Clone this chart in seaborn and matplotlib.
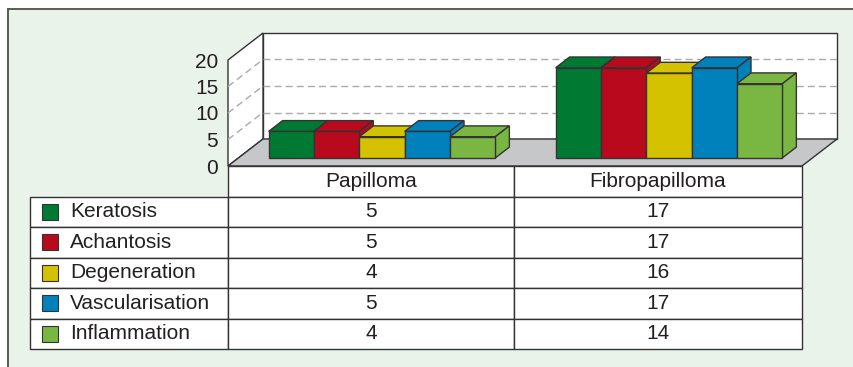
import numpy as np
import pandas as pd
import matplotlib
matplotlib.use("Agg")
import matplotlib.pyplot as plt
import seaborn as sns
from matplotlib.patches import Rectangle, Polygon
from matplotlib.lines import Line2D

# --- datos ---
tumours = ["Papilloma", "Fibropapilloma"]
lesions = ["Keratosis", "Achantosis", "Degeneration", "Vascularisation", "Inflammation"]
papilloma = [5, 5, 4, 5, 4]
fibropapilloma = [17, 17, 16, 17, 14]
colors = ["#007a33", "#b9091c", "#d4c200", "#0081bb", "#79b642"]
yticks = [0, 5, 10, 15, 20]

df = pd.DataFrame({
    "tumour": np.repeat(tumours, len(lesions)),
    "lesion": lesions * 2,
    "count": papilloma + fibropapilloma,
})

# --- estilo ---
sns.set_style("white")
plt.rcParams["font.family"] = ["Liberation Sans", "DejaVu Sans"]
TXT = "#231f20"
EDGE = "#333333"
FS = 15

W, H = 854, 367
fig = plt.figure(figsize=(W / 100, H / 100), dpi=100)
fig.patch.set_facecolor("white")

# marco verde
fig.add_artist(Rectangle((8 / W, 0), 1 - 8 / W, 1 - 9 / H, transform=fig.transFigure,
                         fc="#e9f3ea", ec="none", zorder=-2))
fig.add_artist(Line2D([8 / W, 1], [1 - 9 / H] * 2, transform=fig.transFigure, color="#4d4d4d", lw=1.3, zorder=-1))
fig.add_artist(Line2D([8 / W] * 2, [0, 1 - 9 / H], transform=fig.transFigure, color="#4d4d4d", lw=1.3, zorder=-1))

# --- grafico 3D simulado ---
ax = fig.add_axes([228 / W, (H - 166) / H, 574 / W, 106 / H])
ax.set_facecolor("none")

sns.barplot(data=df, x="tumour", y="count", hue="lesion", hue_order=lesions,
            palette=colors, width=0.79, gap=0, edgecolor=EDGE, linewidth=1.0,
            saturation=1, legend=False, errorbar=None, ax=ax)

X0, X1 = -0.5, 1.5
YMAX = 20
DX = 35 / 574 * 2       # profundidad en unidades de datos
DY = 27 / 106 * YMAX
F0, D = 0.3, 0.4        # posicion y fondo de las barras

# pared trasera
ax.add_patch(Polygon([(X0 + DX, DY), (X1 + DX, DY), (X1 + DX, YMAX + DY), (X0 + DX, YMAX + DY)],
                     closed=True, fc="white", ec=EDGE, lw=1.0, zorder=0.5, clip_on=False))
# pared lateral
ax.add_patch(Polygon([(X0, 0), (X0, YMAX), (X0 + DX, YMAX + DY), (X0 + DX, DY)],
                     closed=True, fc="white", ec=EDGE, lw=1.0, zorder=0.5, clip_on=False))
# rejilla
for v in yticks[1:-1]:
    ax.plot([X0 + DX, X1 + DX], [v + DY, v + DY], color="#aaaaaa", lw=1.0, ls=(0, (5, 3)),
            zorder=0.6, clip_on=False)
    ax.plot([X0, X0 + DX], [v, v + DY], color="#aaaaaa", lw=1.0, ls=(0, (5, 3)),
            zorder=0.6, clip_on=False)
# suelo
ax.add_patch(Polygon([(X0, 0), (X1, 0), (X1 + DX, DY), (X0 + DX, DY)],
                     closed=True, fc="#c6c7c9", ec=EDGE, lw=1.0, zorder=0.7, clip_on=False))

# barras: caras frontal, superior y lateral
bars = sorted(ax.patches[:len(df)], key=lambda p: p.get_x())
for i, p in enumerate(bars):
    x, w, h = p.get_x(), p.get_width(), p.get_height()
    fc = p.get_facecolor()
    xs, ys = x + F0 * DX, F0 * DY
    p.set_x(xs)
    p.set_y(ys)
    p.set_clip_on(False)
    z = 3 + i * 0.01
    p.set_zorder(z + 0.002)
    top = [(xs, ys + h), (xs + w, ys + h), (xs + w + D * DX, ys + h + D * DY), (xs + D * DX, ys + h + D * DY)]
    side = [(xs + w, ys), (xs + w, ys + h), (xs + w + D * DX, ys + h + D * DY), (xs + w + D * DX, ys + D * DY)]
    for poly in (top, side):
        ax.add_patch(Polygon(poly, closed=True, fc=fc, ec=EDGE, lw=1.0, zorder=z, clip_on=False))

ax.set_xlim(X0, X1)
ax.set_ylim(0, YMAX)
ax.set_yticks(yticks)
ax.set_yticklabels([str(t) for t in yticks], fontsize=FS, color=TXT)
ax.tick_params(axis="y", length=0, pad=7)
ax.set_xticks([])
ax.set_xlabel("")
ax.set_ylabel("")
sns.despine(ax=ax, left=True, bottom=True)

# --- tabla de datos ---
ax_t = fig.add_axes([30 / W, (H - 349) / H, 772 / W, 183 / H])
ax_t.axis("off")
cell_text = [["", tumours[0], tumours[1]]]
for lab, a, b in zip(lesions, papilloma, fibropapilloma):
    cell_text.append([lab, str(a), str(b)])
col_w = [198 / 772, 286 / 772, 288 / 772]
tbl = ax_t.table(cellText=cell_text, colWidths=col_w, cellLoc="center", bbox=[0, 0, 1, 1])
tbl.auto_set_font_size(False)
tbl.set_fontsize(FS)
for (r, c), cell in tbl.get_celld().items():
    cell.set_edgecolor(EDGE)
    cell.set_linewidth(1.0)
    cell.get_text().set_color(TXT)
    if r == 0 and c == 0:
        cell.visible_edges = "open"
    if c == 0 and r > 0:
        cell.get_text().set_horizontalalignment("left")
        cell.PAD = 40 / 198

n_rows = len(cell_text)
for i, col in enumerate(colors):
    yc = 1 - (i + 1.5) / n_rows
    ax_t.add_patch(Rectangle((12 / 772, yc - 8 / 183), 16 / 772, 16 / 183, transform=ax_t.transAxes,
                             fc=col, ec=EDGE, lw=0.8, zorder=10))

fig.savefig("out.png", dpi=100)
